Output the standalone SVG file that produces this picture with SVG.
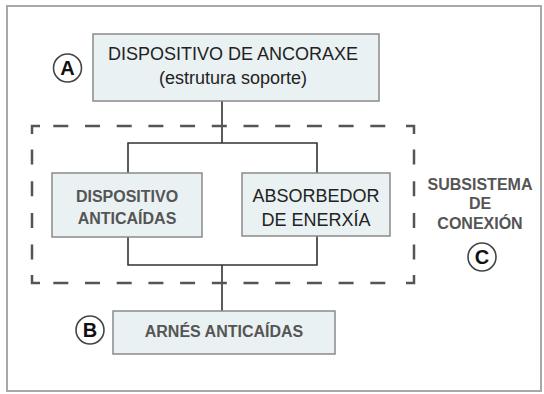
<svg xmlns="http://www.w3.org/2000/svg" width="544" height="394" viewBox="0 0 544 394">
<style>
.box{fill:#e9f1f2;stroke:#8a8a8a;stroke-width:1.5}
.t{font-family:"Liberation Sans",Arial,sans-serif;text-anchor:middle}
.reg{fill:#222;font-size:18px}
.bold{fill:#555;font-size:16px;font-weight:bold}
.circ{fill:#fff;stroke:#444;stroke-width:1.6}
.letter{fill:#111;font-size:20px;font-weight:bold}
.con{fill:none;stroke:#333;stroke-width:1.6}
.dash{fill:none;stroke:#555;stroke-width:2.5;stroke-dasharray:15 16.7}
.corner{fill:none;stroke:#555;stroke-width:2.5}
</style>
<rect x="0" y="0" width="544" height="394" fill="#fff"/>
<rect x="7" y="6" width="534" height="385" fill="none" stroke="#a8a8a8" stroke-width="2"/>
<g id="connectors">
<path class="con" d="M222,101 V143 M128,173 V143 H317 V173"/>
<path class="con" d="M128,237 V265 H317 V236 M222,265 V311"/>
</g>
<g id="subsistema">
<path class="corner" d="M32,134 V126 H40 M406,126 H414 V134 M414,275 V283 H406 M40,283 H32 V275"/>
<path class="dash" d="M53.3,126 H385.3 M53.3,283 H385.3 M32,149.5 V259.6 M414,149.5 V259.6"/>
<text class="t bold" x="480" y="190" font-size="15">SUBSISTEMA</text>
<text class="t bold" x="480" y="209">DE</text>
<text class="t bold" x="480" y="229">CONEXIÓN</text>
</g>
<g id="ancoraxe">
<rect class="box" x="93" y="34" width="286" height="67"/>
<text class="t reg" x="233" y="60">DISPOSITIVO DE ANCORAXE</text>
<text class="t reg" x="233" y="84" font-size="17">(estrutura soporte)</text>
</g>
<g id="anticaidas">
<rect class="box" x="52" y="173" width="150" height="64"/>
<text class="t bold" x="127" y="202">DISPOSITIVO</text>
<text class="t bold" x="127" y="224">ANTICAÍDAS</text>
</g>
<g id="absorbedor">
<rect class="box" x="242" y="173" width="148" height="63"/>
<text class="t reg" x="316" y="202">ABSORBEDOR</text>
<text class="t reg" x="316" y="226">DE ENERXÍA</text>
</g>
<g id="arnes">
<rect class="box" x="113" y="311" width="222" height="43"/>
<text class="t bold" x="224" y="337">ARNÉS ANTICAÍDAS</text>
</g>
<g id="labelA">
<circle class="circ" cx="67.5" cy="68" r="14"/>
<text class="t letter" x="67.5" y="75">A</text>
</g>
<g id="labelB">
<circle class="circ" cx="90" cy="330" r="14"/>
<text class="t letter" x="90" y="337">B</text>
</g>
<g id="labelC">
<circle class="circ" cx="482" cy="257" r="14"/>
<text class="t letter" x="482" y="264">C</text>
</g>
</svg>
